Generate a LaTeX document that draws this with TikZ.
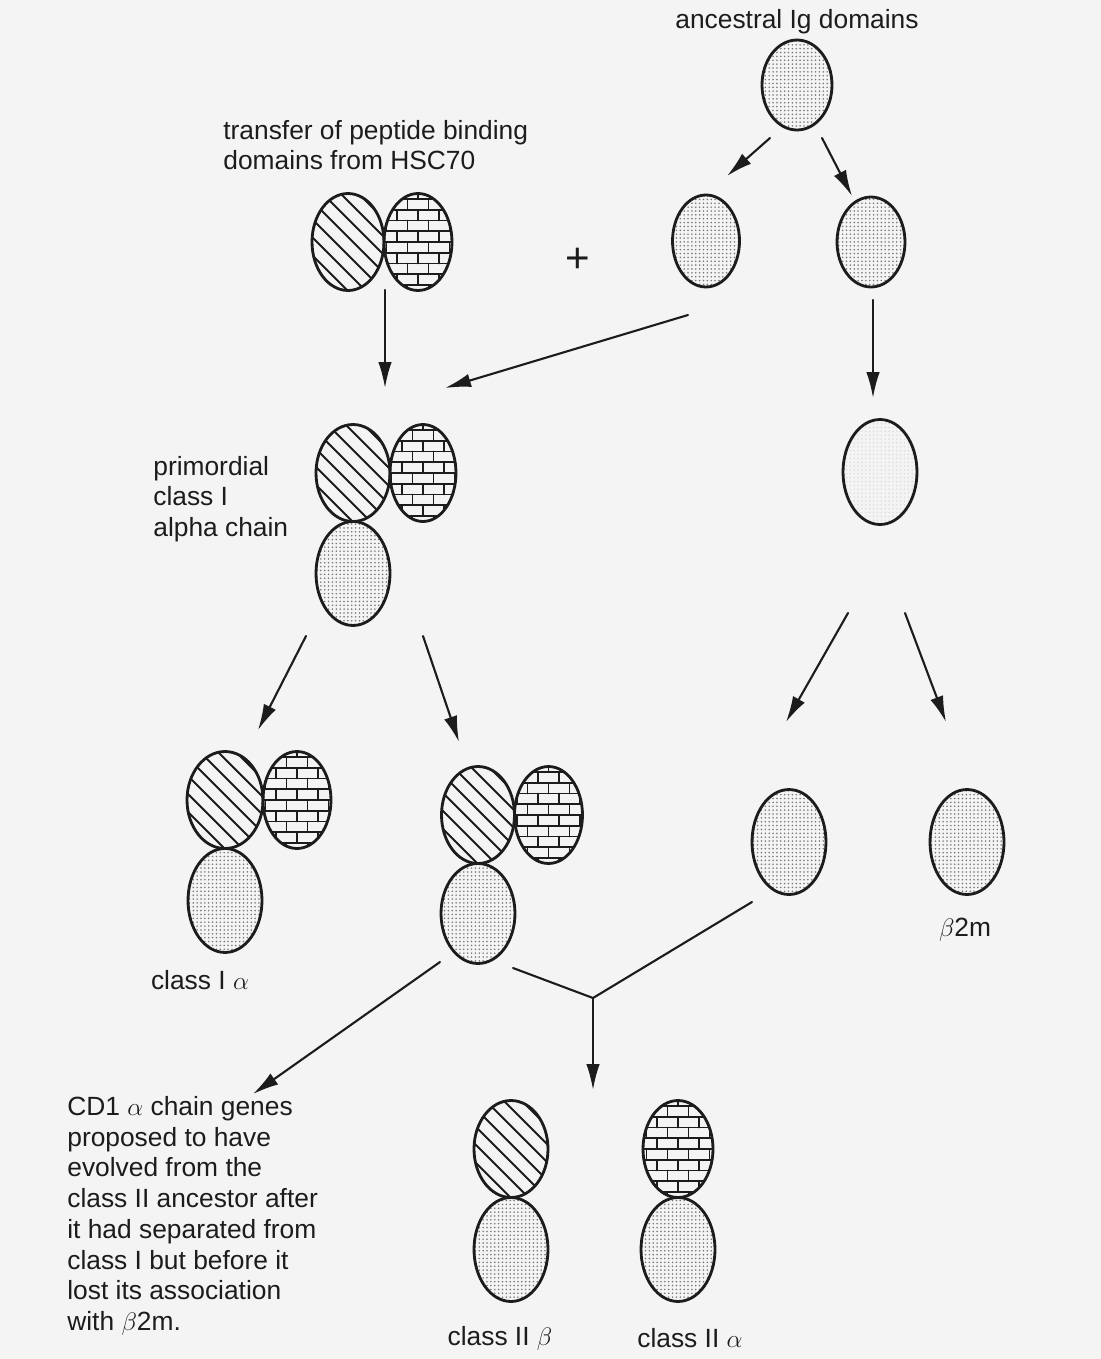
\documentclass[tikz,border=0pt]{standalone}
\usepackage{fontspec}
\setmainfont{Liberation Sans}
\usepackage{xcolor}
\usepackage{tikz}
\usetikzlibrary{arrows.meta,positioning,shapes.geometric,patterns}
\definecolor{ink}{HTML}{1C1C1C}
\definecolor{paper}{HTML}{F4F4F4}
\pgfdeclarepatternformonly{stipple}{\pgfqpoint{-1pt}{-1pt}}{\pgfqpoint{1pt}{1pt}}{\pgfqpoint{2.2pt}{2.2pt}}{%
  \pgfpathcircle{\pgfpointorigin}{0.5pt}\pgfusepath{fill}}
\newcommand{\lblfont}{\fontsize{15}{17.5}\selectfont}
\tikzset{
    every picture/.style={line cap=round,line join=round},
    igdom/.style={ellipse,draw=ink,line width=1.6pt,inner sep=0pt,outer sep=0pt,
      minimum width=1.46cm,minimum height=1.94cm},
    dotdom/.style={igdom,pattern=stipple,pattern color=ink!60,
      minimum width=1.48cm,minimum height=2.08cm},
    hatchdom/.style={igdom,path picture={
      \foreach \k in {-5,...,5}
        \draw[ink,line width=1.1pt] ([xshift=\k*0.36cm+0.1cm]path picture bounding box.center)
          ++(-2cm,2cm) -- ++(4cm,-4cm);}},
    brickdom/.style={igdom,minimum width=1.36cm,path picture={
      \foreach \r in {0,...,11} {
        \draw[ink,line width=1.1pt] ([yshift=(\r-6)*0.215cm]path picture bounding box.center)
          ++(-1cm,0) -- ++(2cm,0);
        \foreach \c in {0,...,7}
          \draw[ink,line width=1.1pt] ([shift={({(\c-4)*0.42cm+mod(\r,2)*0.21cm},{(\r-6)*0.215cm})}]path picture bounding box.center)
            -- ++(0,0.215cm);
      }}},
    flowarrow/.style={-{Latex[length=5.2mm,width=2.7mm]},draw=ink,line width=1.2pt},
    branch/.style={draw=ink,line width=1.2pt},
    lbl/.style={font=\lblfont,text=ink,inner sep=0pt,align=left}
}

\begin{document}
\begin{tikzpicture}[x=0.02cm,y=-0.02cm]
  \fill[paper] (0,0) rectangle (1101,1359);
  % ancestral domains
  \node[lbl] (anc) at (797,22) {ancestral Ig domains};
  \node[dotdom,minimum width=1.4cm,minimum height=1.8cm] (ig0) at (797,85) {};
  \node[dotdom,minimum width=1.34cm,minimum height=1.84cm] (ig1) at (706,241) {};
  \node[dotdom,minimum width=1.36cm,minimum height=1.8cm] (ig2) at (871,242) {};
  \node[font=\fontsize{24}{24}\selectfont,text=ink] (plus) at (578,260) {+};
  % peptide binding domains
  \node[lbl,anchor=west] (hsc) at (223,145) {transfer of peptide binding\\domains from HSC70};
  \node[hatchdom,minimum width=1.44cm] (h0) at (348,242) {};
  \node[brickdom,right=0pt of h0] (b0) {};
  % primordial class I
  \node[hatchdom,minimum width=1.48cm] (h1) at (353,473) {};
  \node[brickdom,minimum width=1.32cm,right=0pt of h1] (b1) {};
  \node[dotdom,below=0pt of h1] (d1) {};
  \node[lbl,anchor=west] (prim) at (153,499) {primordial\\class I\\alpha chain};
  \node[dotdom,pattern color=ink!15,minimum height=2.1cm] (ig3) at (880,472) {};
  % class I alpha
  \node[hatchdom,minimum width=1.52cm] (h2) at (225,800) {};
  \node[brickdom,right=0pt of h2] (b2) {};
  \node[dotdom,below=0pt of h2] (d2) {};
  \node[lbl] (c1a) at (200,980) {class I $\alpha$};
  % CD1 like
  \node[hatchdom] (h3) at (478,815) {};
  \node[brickdom,right=0pt of h3] (b3) {};
  \node[dotdom,below=0pt of h3,minimum height=2cm] (d3) {};
  % single domains
  \node[dotdom,minimum height=2.1cm] (ig4) at (789,842) {};
  \node[dotdom,minimum height=2.1cm] (b2m) at (967,842) {};
  \node[lbl] (b2mlbl) at (965,930) {$\beta$2m};
  % class II
  \node[hatchdom,minimum width=1.48cm] (h4) at (511,1149) {};
  \node[dotdom,below=0pt of h4] (d4) {};
  \node[brickdom,minimum width=1.4cm] (b4) at (678,1149) {};
  \node[dotdom,below=0pt of b4] (d5) {};
  \node[lbl] (c2b) at (500,1338) {class II $\beta$};
  \node[lbl] (c2a) at (690,1338) {class II $\alpha$};
  \node[lbl,anchor=west] (cd1) at (67,1216) {CD1 $\alpha$ chain genes\\proposed to have\\evolved from the\\class II ancestor after\\it had separated from\\class I but before it\\lost its association\\with $\beta$2m.};
  % arrow ends
  \foreach \n/\x/\y in {s1/770/138, e1/727/176, s2/822/138, e2/852/196,
                        s3/385/290, e3/385/388, s4/688/315, e4/445/388,
                        s5/873/300, e5/873/398, s6/306/636, e6/258/730,
                        s7/423/636, e7/459/742, s8/848/613, e8/786/722,
                        s9/905/613, e9/946/722, s10/440/962, e10/253/1094,
                        yl/513/968, yj/593/998, yr/752/902, yd/593/1090}
    \coordinate (\n) at (\x,\y);
  \foreach \i in {1,...,10}
    \draw[flowarrow] (s\i) -- (e\i);
  \draw[branch] (yl) -- (yj) -- (yr);
  \draw[flowarrow] (yj) -- (yd);
\end{tikzpicture}
\end{document}
